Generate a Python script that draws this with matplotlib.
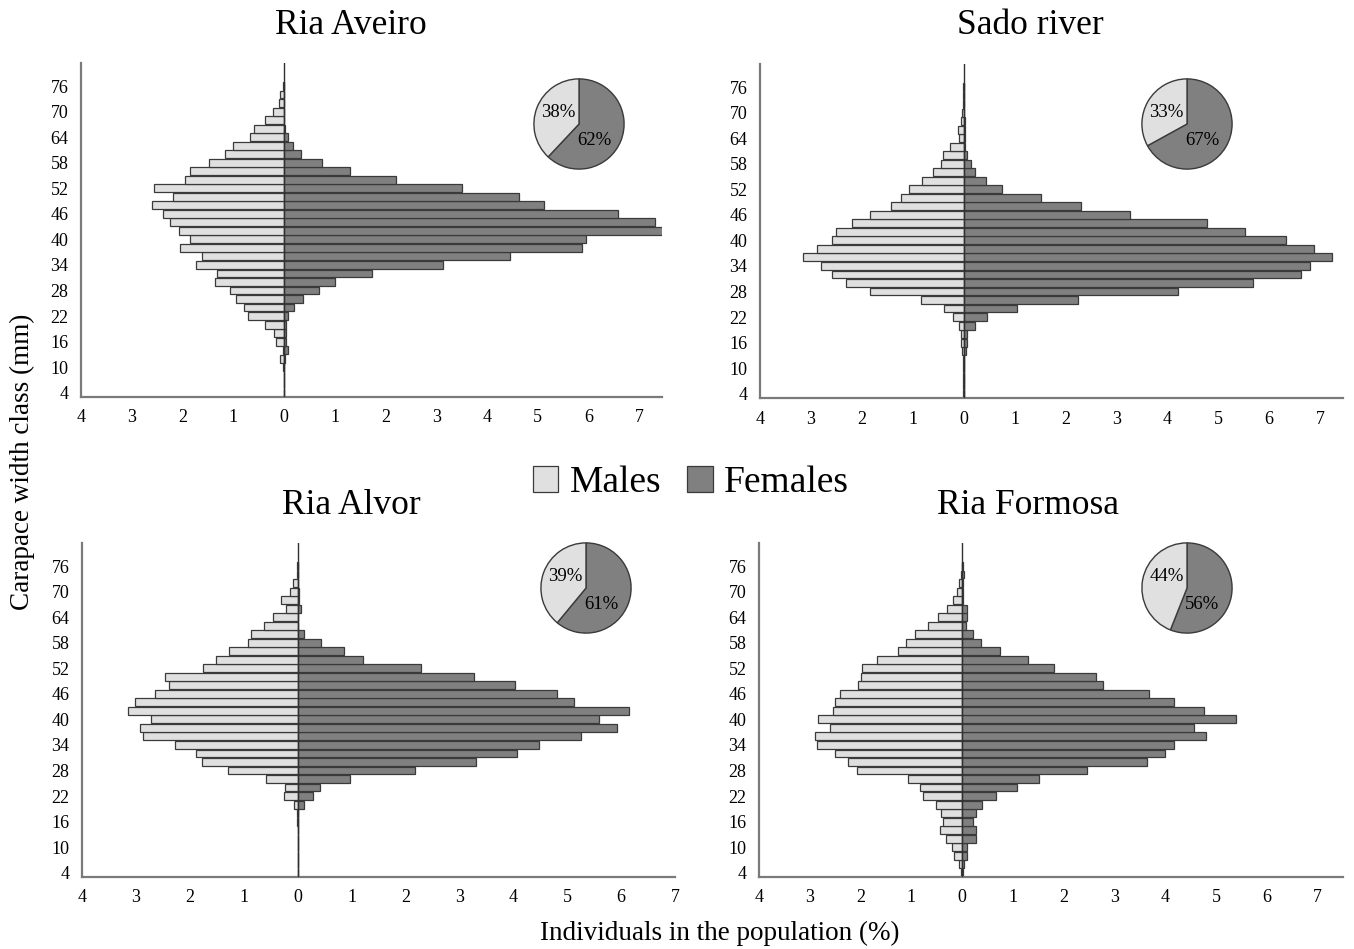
import numpy as np
import matplotlib
matplotlib.use('Agg')
from matplotlib import pyplot as plt
from matplotlib.patches import Patch

plt.rcParams['font.family'] = ['Liberation Serif', 'DejaVu Serif']

# carapace width classes (mm), 4..76 in 2 mm steps
classes = np.arange(4, 78, 2)

aveiro_m = [0.005, 0.005, 0.005, 0.01, 0.07, 0.02, 0.15, 0.19, 0.375, 0.7, 0.78, 0.94, 1.07,
            1.36, 1.32, 1.73, 1.62, 2.05, 1.85, 2.06, 2.24, 2.39, 2.6, 2.19, 2.57, 1.95, 1.85,
            1.48, 1.16, 1.0, 0.66, 0.6, 0.38, 0.22, 0.09, 0.085, 0.02]
aveiro_f = [0.01, 0.01, 0.01, 0.01, 0.02, 0.07, 0.04, 0.04, 0.04, 0.07, 0.2, 0.37, 0.7,
            1.0, 1.73, 3.13, 4.45, 5.88, 5.95, 7.46, 7.31, 6.58, 5.12, 4.64, 3.51, 2.2, 1.31,
            0.75, 0.33, 0.17, 0.08, 0.02, 0.01, 0.01, 0.01, 0.01, 0.01]

sado_m = [0.01, 0.01, 0.01, 0.01, 0.01, 0.03, 0.06, 0.06, 0.1, 0.21, 0.38, 0.84, 1.84,
          2.31, 2.58, 2.81, 3.15, 2.89, 2.59, 2.5, 2.2, 1.84, 1.43, 1.23, 1.07, 0.81, 0.6,
          0.44, 0.4, 0.27, 0.1, 0.12, 0.06, 0.04, 0.02, 0.02, 0.01]
sado_f = [0.01, 0.01, 0.01, 0.01, 0.01, 0.04, 0.06, 0.07, 0.22, 0.45, 1.04, 2.25, 4.2,
          5.68, 6.63, 6.8, 7.24, 6.88, 6.33, 5.53, 4.78, 3.27, 2.3, 1.51, 0.75, 0.43, 0.22,
          0.14, 0.07, 0.02, 0.02, 0.02, 0.02, 0.01, 0.01, 0.01, 0.01]

alvor_m = [0, 0, 0, 0, 0, 0, 0.005, 0.01, 0.07, 0.25, 0.23, 0.59, 1.3,
           1.77, 1.88, 2.27, 2.86, 2.93, 2.72, 3.14, 3.01, 2.64, 2.38, 2.46, 1.75, 1.51, 1.28,
           0.93, 0.87, 0.62, 0.45, 0.22, 0.3, 0.14, 0.08, 0.02, 0.01]
alvor_f = [0, 0, 0, 0, 0, 0, 0.005, 0.01, 0.11, 0.29, 0.42, 0.97, 2.17,
           3.3, 4.06, 4.48, 5.25, 5.93, 5.59, 6.14, 5.12, 4.82, 4.04, 3.28, 2.28, 1.22, 0.86,
           0.44, 0.12, 0.01, 0.01, 0.06, 0.02, 0.02, 0.01, 0.01, 0.0]

formosa_m = [0.02, 0.06, 0.16, 0.2, 0.31, 0.43, 0.37, 0.42, 0.51, 0.77, 0.83, 1.06, 2.07,
             2.24, 2.51, 2.85, 2.89, 2.61, 2.83, 2.55, 2.51, 2.41, 2.06, 1.99, 1.97, 1.68, 1.26,
             1.11, 0.93, 0.68, 0.48, 0.3, 0.17, 0.1, 0.07, 0.03, 0.01]
formosa_f = [0.02, 0.04, 0.1, 0.1, 0.27, 0.28, 0.22, 0.28, 0.4, 0.66, 1.08, 1.51, 2.46,
             3.64, 4.0, 4.17, 4.81, 4.57, 5.39, 4.76, 4.17, 3.67, 2.78, 2.63, 1.8, 1.29, 0.74,
             0.38, 0.22, 0.07, 0.09, 0.09, 0.02, 0.02, 0.02, 0.04, 0.01]

sites = ['Ria Aveiro', 'Sado river', 'Ria Alvor', 'Ria Formosa']
sex_ratio = [(38, 62), (33, 67), (39, 61), (44, 56)]  # males, females
yticks = np.arange(4, 78, 6)

W, H = 1354, 949
MALE_C = '#e0e0e0'
FEM_C = '#808080'
EDGE_C = '#3a3a3a'


def px_rect(l, t, r, b):
    return [l / W, 1 - b / H, (r - l) / W, (b - t) / H]


panels = [
    dict(males=aveiro_m, females=aveiro_f, rect=(81, 63, 662, 397), xmax=7.45,
         title_xy=(351, 26), pie=(579, 124)),
    dict(males=sado_m, females=sado_f, rect=(760, 64, 1343, 398), xmax=7.45,
         title_xy=(1030, 26), pie=(1187, 124)),
    dict(males=alvor_m, females=alvor_f, rect=(82, 543, 675, 877), xmax=7.0,
         title_xy=(351, 506), pie=(586, 588)),
    dict(males=formosa_m, females=formosa_f, rect=(759, 543, 1343, 877), xmax=7.5,
         title_xy=(1028, 506), pie=(1187, 588)),
]

fig = plt.figure(figsize=(W / 100, H / 100), dpi=100)

for name, p, (pm, pf) in zip(sites, panels, sex_ratio):
    ax = fig.add_axes(px_rect(*p['rect']))
    m = np.array(p['males'])
    f = np.array(p['females'])
    ax.barh(classes, -m, height=1.85, color=MALE_C, edgecolor=EDGE_C, linewidth=0.9)
    ax.barh(classes, f, height=1.85, color=FEM_C, edgecolor=EDGE_C, linewidth=0.9)
    ax.axvline(0, color='#303030', linewidth=1.0, zorder=3)
    ax.set_xlim(-4.0, p['xmax'])
    ax.set_ylim(3, 81.4)
    xt = np.arange(-4, int(np.floor(p['xmax'])) + 1)
    ax.set_xticks(xt)
    ax.set_xticklabels([str(abs(v)) for v in xt])
    ax.set_yticks(yticks)
    ax.tick_params(length=0, labelsize=13, pad=9)
    for s in ['top', 'right']:
        ax.spines[s].set_visible(False)
    for s in ['left', 'bottom']:
        ax.spines[s].set_color('#7a7a7a')
        ax.spines[s].set_linewidth(1.6)
    fig.text(p['title_xy'][0] / W, 1 - p['title_xy'][1] / H, name,
             ha='center', va='center', fontsize=25.5)

    # sex ratio pie
    cx, cy = p['pie']
    r = 46
    pax = fig.add_axes(px_rect(cx - r, cy - r, cx + r, cy + r))
    pax.pie([pf, pm], colors=[FEM_C, MALE_C], startangle=90, counterclock=False,
            wedgeprops=dict(edgecolor=EDGE_C, linewidth=1.0), radius=1.0)
    pax.set_xlim(-1.02, 1.02)
    pax.set_ylim(-1.02, 1.02)
    pax.set_aspect('equal')
    pax.text(-0.45, 0.26, f'{pm}%', ha='center', va='center', fontsize=13.5)
    pax.text(0.33, -0.37, f'{pf}%', ha='center', va='center', fontsize=13.5)

handles = [Patch(facecolor=MALE_C, edgecolor=EDGE_C, linewidth=0.9, label='Males'),
           Patch(facecolor=FEM_C, edgecolor=EDGE_C, linewidth=0.9, label='Females')]
fig.legend(handles=handles, loc='center', bbox_to_anchor=(691 / W, 1 - 483 / H), ncol=2,
           frameon=False, fontsize=27, handlelength=0.68, handleheight=0.68,
           handletextpad=0.3, columnspacing=0.7)

fig.text(22 / W, 1 - 462 / H, 'Carapace width class (mm)', rotation=90,
         ha='center', va='center', fontsize=19.5)
fig.text(720 / W, 1 - 933 / H, 'Individuals in the population (%)',
         ha='center', va='center', fontsize=19.5)

fig.savefig('out.png', dpi=100)
